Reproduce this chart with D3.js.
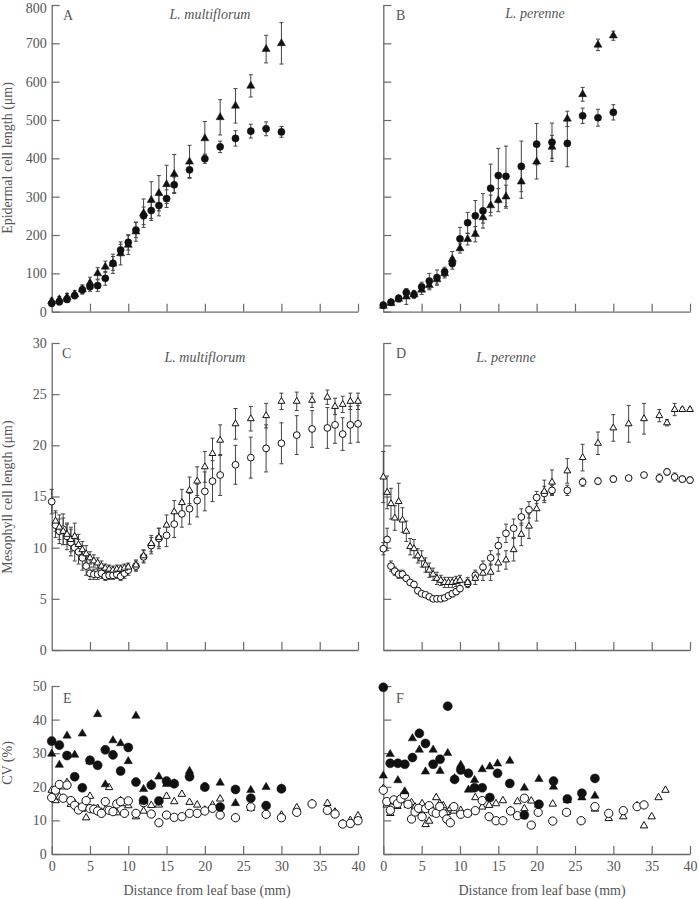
<!DOCTYPE html>
<html><head><meta charset="utf-8">
<script src="https://cdn.jsdelivr.net/npm/d3@7"></script>
<style>body{margin:0;background:#fff} svg{display:block}</style>
</head><body>
<script>
// ---------------- DATA ----------------
const distEpi = [0,1,2,3,4,5,6,7,8,9,10,11,12,13,14,15,16,18,20,22,24,26,28,30];
const distMeso = [0,0.5,1,1.5,2,2.5,3,3.5,4,4.5,5,5.5,6,6.5,7,7.5,8,8.5,9,9.5,10,11,12,13,14,15,16,17,18,19,20,21,22,24,26,28,30,32,34,36,37,38,39,40];
// positions as plotted in panel F
const distEpiCVPer = [0,0.9,1.9,2.8,3.8,4.7,5.5,6.5,7.4,8.4,9.3,10.1,11.1,11.9,12.9,13.9,14.9,16.5,18.4,20.3,22.2,24.0,25.9,27.6];
const distMesoCVPer = [0,0.46,0.92,1.38,1.84,2.3,2.76,3.22,3.68,4.14,4.6,5.06,5.52,5.98,6.44,6.9,7.36,7.82,8.28,8.74,9.2,10.1,11.0,12.0,12.9,13.8,14.7,15.6,16.6,17.5,18.4,19.3,20.2,22.1,23.9,25.8,27.6,29.4,31.3,33.1,34.0,35.0,35.9,36.8];

const epiYTicks = [0,100,200,300,400,500,600,700,800];
const mesoYTicks = [0,5,10,15,20,25,30];
const cvYTicks = [0,10,20,30,40,50];
const distTicks = [0,5,10,15,20,25,30,35,40];

// Panel A: L. multiflorum epidermal
const epiMultiCircle = [22,26,32,42,57,65,68,87,126,161,181,213,250,264,277,295,331,370,399,430,452,471,477,469];
const epiMultiCircleErr = [8,8,8,8,10,12,15,18,18,15,20,20,23,26,27,23,20,20,12,15,20,18,18,14];
const epiMultiTri = [27,32,38,45,58,75,100,117,125,152,174,209,257,291,309,332,359,391,452,507,537,589,685,700];
const epiMultiTriErr = [8,8,10,10,12,15,15,15,25,30,25,25,37,48,46,50,51,43,44,46,45,29,36,54];

// Panel B: L. perenne epidermal
const epiPerCircle = [17,25,35,50,45,65,80,89,104,126,190,232,250,263,322,355,353,379,437,442,439,511,506,520];
const epiPerCircleErr = [6,6,8,10,10,12,20,20,12,15,30,27,40,45,63,71,79,66,54,50,61,20,22,20];
const epiPerTri = [15,22,33,39,45,57,69,84,100,137,165,189,202,246,277,291,300,339,391,430,503,567,696,720];
const epiPerTriErr = [6,6,8,20,8,12,12,12,12,20,12,15,20,15,27,30,30,43,45,30,20,18,15,12];

// Panel C: L. multiflorum mesophyll
const mesoMultiCircle = [14.5,12.2,11.6,11.8,11.1,10.5,10.0,9.6,9.0,8.2,7.5,7.4,7.4,7.5,7.2,7.3,7.3,7.4,7.2,7.5,7.8,
  8.2,9.1,10.2,10.9,11.2,12.3,13.3,13.8,14.6,15.5,16.5,17.1,
  18.1,18.8,19.7,20.2,21.0,21.6,
  21.7,22.0,21.1,22.0,22.1];
const mesoMultiCircleErr = [1.2,1.2,1.2,1.5,1.3,1.3,1.3,1.2,1.2,0.9,0.6,0.5,0.5,0.5,0.4,0.4,0.4,0.4,0.4,0.5,0.5,
  0.5,0.6,0.8,1.0,1.1,1.3,1.3,1.5,1.6,1.9,2.0,2.0,
  1.9,2.0,2.3,2.0,1.9,1.8,
  2.0,1.8,1.6,1.8,1.8];
const mesoMultiTri = [null,12.6,12.0,11.6,11.3,10.8,11.1,10.3,9.8,9.4,9.0,8.7,8.5,8.2,8.0,7.9,7.8,7.9,7.9,8.0,8.1,
  8.3,9.2,10.4,11.0,12.2,13.5,14.4,15.6,16.5,17.9,19.2,20.5,
  22.1,22.6,22.9,24.3,24.3,24.4,
  24.7,23.8,24.0,24.3,24.3];
const mesoMultiTriErr = [0,1.0,1.2,1.3,1.0,1.2,1.3,1.0,0.8,0.8,0.6,0.6,0.5,0.5,0.4,0.4,0.4,0.4,0.4,0.4,0.4,
  0.5,0.6,0.8,0.9,1.0,1.1,1.3,1.3,1.4,1.5,1.5,1.5,
  1.5,1.2,1.2,0.8,0.9,0.7,
  0.7,0.8,0.8,0.8,0.8];

// Panel D: L. perenne mesophyll
const mesoPerCircle = [9.9,10.8,8.2,7.7,7.4,7.4,7.0,6.6,6.4,5.8,5.5,5.4,5.2,5.0,5.0,5.0,5.1,5.3,5.5,5.7,6.0,
  6.5,7.3,8.1,9.0,10.2,11.4,11.9,13.0,13.7,14.9,15.3,15.6,
  15.6,16.4,16.5,16.7,16.8,17.1,
  16.8,17.4,16.9,16.7,16.6];
const mesoPerCircleErr = [0.6,1.1,0.5,0.4,0.4,0.4,0.3,0.3,0.3,0.3,0.2,0.2,0.2,0.2,0.2,0.2,0.2,0.2,0.3,0.3,0.3,
  0.4,0.5,0.6,0.7,0.8,0.9,0.9,0.8,0.8,0.6,0.7,0.5,
  0.5,0.4,0.3,0.3,0.2,0.2,
  0.4,0.3,0.4,0.3,0.3];
const mesoPerTri = [16.9,15.4,14.3,12.9,14.5,12.7,11.6,10.1,9.9,9.2,8.9,8.3,7.8,7.4,7.0,6.8,6.6,6.6,6.6,6.7,6.8,
  6.6,7.0,7.5,7.6,8.5,8.8,9.8,11.3,12.1,13.8,15.5,16.4,
  17.5,18.8,20.2,21.7,22.1,22.6,
  22.9,22.2,23.5,23.5,23.5];
const mesoPerTriErr = [2.5,1.6,1.5,1.2,1.8,1.2,1.0,0.8,0.9,0.7,0.8,0.7,0.7,0.6,0.6,0.5,0.5,0.5,0.5,0.5,0.5,
  0.5,0.6,0.7,0.8,0.8,0.9,1.1,1.1,1.2,1.2,1.1,1.2,
  1.2,1.3,1.1,1.3,1.8,1.5,
  0.6,0.3,0.6,0.2,0.2];

// Panel E: CV, L. multiflorum
const cvEpiMultiCircle = [33.6,32.4,29.3,23.0,19.7,27.9,26.4,31.0,29.5,24.7,31.7,21.4,16.0,20.5,15.8,21.7,20.9,23.0,19.9,14.0,19.2,16.6,14.4,19.4];
const cvEpiMultiTri = [29.8,26.5,35.2,29.5,35.8,27.5,41.6,20.7,33.8,32.9,27.6,41.1,19.3,20.8,23.0,20.8,21.0,24.7,20.0,21.2,15.1,19.0,19.9,19.5];
const cvMesoMultiCircle = [16.8,19.0,20.7,16.6,20.5,15.9,14.5,13.1,14.0,15.9,13.5,13.3,12.8,12.1,15.6,13.0,12.6,14.9,15.6,12.1,15.8,
  12.1,15.3,11.9,9.3,11.6,10.9,11.1,12.1,12.1,12.8,13.6,11.6,
  10.8,14.0,11.8,10.8,12.4,14.9,
  13.0,11.9,8.9,9.1,9.9];
const cvMesoMultiTri = [19.0,15.9,17.0,20.0,21.3,14.8,15.1,14.0,13.4,10.8,17.2,13.5,13.6,12.5,13.1,19.8,12.6,12.3,15.9,15.0,14.4,
  11.1,12.8,14.5,14.6,17.2,15.6,17.8,15.4,14.6,13.1,14.6,16.4,
  10.9,13.6,12.0,11.6,13.8,15.1,
  15.1,12.5,9.1,10.0,11.4];

// Panel F: CV, L. perenne
const cvEpiPerCircle = [49.6,27.0,27.0,26.7,28.7,35.9,32.9,26.7,28.2,44.0,22.2,25.0,24.0,19.7,19.7,16.8,24.0,21.0,11.6,14.8,21.7,16.4,18.1,22.5];
const cvEpiPerTri = [23.3,29.7,21.9,18.6,34.4,31.0,24.5,31.0,24.7,30.0,22.5,26.5,19.1,22.0,25.2,26.0,26.9,27.7,19.7,22.3,20.0,16.0,16.8,17.3];
const cvMesoPerCircle = [19.0,15.6,13.0,16.1,15.0,16.4,17.6,14.8,10.4,12.5,13.6,11.1,13.5,14.4,12.5,12.1,14.1,12.0,10.4,9.3,14.1,
  11.8,12.1,12.9,15.9,11.1,9.9,9.9,12.8,11.4,16.6,8.6,12.4,
  9.8,12.4,9.9,14.1,12.1,12.9,
  14.1,14.6,null,null,null];
const cvMesoPerTri = [19.5,14.6,12.1,15.5,14.2,16.0,18.4,14.5,15.3,14.0,13.0,15.0,8.8,9.8,13.0,16.8,15.0,14.4,12.4,13.5,12.8,
  13.0,12.0,16.8,14.0,14.5,15.0,15.9,13.0,15.6,13.5,15.8,14.6,
  14.9,12.4,9.9,13.4,10.6,11.1,
  14.4,8.4,11.1,16.8,19.0];

// ---------------- DRAWING ----------------
const FONT = '"Liberation Serif","Times New Roman",Times,serif';
const TXT = "#555", AX = "#6a6a6a", MK = "#111";
const svg = d3.select("body").append("svg").attr("width",699).attr("height",899);

const xLeft = d3.scaleLinear().domain([0,40]).range([51.7,358]);
const xRight = d3.scaleLinear().domain([0,40]).range([383.3,690]);
const yEpi = d3.scaleLinear().domain([0,800]).range([311.7,5]);
const yMeso = d3.scaleLinear().domain([0,30]).range([650,343]);
const yCV = d3.scaleLinear().domain([0,50]).range([854,686]);

function axes(x, y, yTicks, yLabels, xLabels){
  const gx = svg.append("g").attr("transform",`translate(0,${y(0)})`)
    .call(d3.axisBottom(x).tickValues(xLabels ? distTicks : distTicks.slice(1))
      .tickSizeInner(-8).tickSizeOuter(0).tickPadding(7)
      .tickFormat(xLabels ? d3.format("d") : ""));
  const gy = svg.append("g").attr("transform",`translate(${x(0)},0)`)
    .call(d3.axisLeft(y).tickValues(yTicks)
      .tickSizeInner(-8).tickSizeOuter(0).tickPadding(5)
      .tickFormat(yLabels ? d3.format("d") : ""));
  [gx,gy].forEach(g=>{
    g.attr("font-family",FONT).attr("font-size",14);
    g.select(".domain").attr("stroke",AX).attr("stroke-width",1.3);
    g.selectAll(".tick line").attr("stroke",AX).attr("stroke-width",1.2);
    g.selectAll(".tick text").attr("fill",TXT);
  });
  // keep the top label inside the picture
  gy.selectAll(".tick text").filter(d=>d===800).attr("dy","0.5em");
}

function errBars(x, y, xs, vals, errs){
  const d = xs.map((v,i)=>({x:v, y:vals[i], e:errs[i]})).filter(p=>p.y!=null && p.e>0);
  const g = svg.append("g").attr("stroke","#444").attr("stroke-width",1).attr("fill","none");
  d.forEach(p=>{
    const cx = x(p.x), y1 = y(p.y+p.e), y2 = y(p.y-p.e);
    g.append("line").attr("x1",cx).attr("x2",cx).attr("y1",y1).attr("y2",y2);
    g.append("line").attr("x1",cx-2).attr("x2",cx+2).attr("y1",y1).attr("y2",y1);
    g.append("line").attr("x1",cx-2).attr("x2",cx+2).attr("y1",y2).attr("y2",y2);
  });
}

function marks(x, y, xs, vals, shape, filled, size){
  const d = xs.map((v,i)=>({x:v, y:vals[i]})).filter(p=>p.y!=null);
  const sym = d3.symbol().type(shape==="tri" ? d3.symbolTriangle : d3.symbolCircle).size(size);
  svg.append("g").selectAll("path").data(d).join("path")
    .attr("d", sym)
    .attr("transform", p=>`translate(${x(p.x)},${y(p.y)})`)
    .attr("fill", filled ? MK : "#fff")
    .attr("stroke", MK)
    .attr("stroke-width", filled ? 0.5 : 1);
}

function label(x, y, str, opts={}){
  svg.append("text").attr("x",x).attr("y",y).text(str)
    .attr("font-family",FONT).attr("font-size",opts.size||14).attr("fill",TXT)
    .attr("font-style",opts.italic?"italic":null)
    .attr("text-anchor",opts.anchor||"start");
}

// axes
axes(xLeft, yEpi, epiYTicks, true, false);
axes(xRight, yEpi, epiYTicks, false, false);
axes(xLeft, yMeso, mesoYTicks, true, false);
axes(xRight, yMeso, mesoYTicks, false, false);
axes(xLeft, yCV, cvYTicks, true, true);
axes(xRight, yCV, cvYTicks, false, true);

// Panel A
errBars(xLeft, yEpi, distEpi, epiMultiTri, epiMultiTriErr);
errBars(xLeft, yEpi, distEpi, epiMultiCircle, epiMultiCircleErr);
marks(xLeft, yEpi, distEpi, epiMultiTri, "tri", true, 28);
marks(xLeft, yEpi, distEpi, epiMultiCircle, "circ", true, 40);
// Panel B
errBars(xRight, yEpi, distEpi, epiPerTri, epiPerTriErr);
errBars(xRight, yEpi, distEpi, epiPerCircle, epiPerCircleErr);
marks(xRight, yEpi, distEpi, epiPerTri, "tri", true, 28);
marks(xRight, yEpi, distEpi, epiPerCircle, "circ", true, 40);
// Panel C
errBars(xLeft, yMeso, distMeso, mesoMultiCircle, mesoMultiCircleErr);
errBars(xLeft, yMeso, distMeso, mesoMultiTri, mesoMultiTriErr);
marks(xLeft, yMeso, distMeso, mesoMultiCircle, "circ", false, 36);
marks(xLeft, yMeso, distMeso, mesoMultiTri, "tri", false, 20);
// Panel D
errBars(xRight, yMeso, distMeso, mesoPerCircle, mesoPerCircleErr);
errBars(xRight, yMeso, distMeso, mesoPerTri, mesoPerTriErr);
marks(xRight, yMeso, distMeso, mesoPerCircle, "circ", false, 36);
marks(xRight, yMeso, distMeso, mesoPerTri, "tri", false, 20);
// Panel E
marks(xLeft, yCV, distMeso, cvMesoMultiTri, "tri", false, 24);
marks(xLeft, yCV, distMeso, cvMesoMultiCircle, "circ", false, 54);
marks(xLeft, yCV, distEpi, cvEpiMultiTri, "tri", true, 30);
marks(xLeft, yCV, distEpi, cvEpiMultiCircle, "circ", true, 64);
// Panel F
marks(xRight, yCV, distMesoCVPer, cvMesoPerTri, "tri", false, 24);
marks(xRight, yCV, distMesoCVPer, cvMesoPerCircle, "circ", false, 54);
marks(xRight, yCV, distEpiCVPer, cvEpiPerTri, "tri", true, 30);
marks(xRight, yCV, distEpiCVPer, cvEpiPerCircle, "circ", true, 64);

// panel letters and titles
label(63, 20, "A"); label(396, 20, "B");
label(62, 358, "C"); label(396, 358, "D");
label(63, 703, "E"); label(396, 703, "F");
label(210, 19, "L. multiflorum", {italic:true, anchor:"middle"});
label(535, 18, "L. perenne", {italic:true, anchor:"middle"});
label(205, 362, "L. multiflorum", {italic:true, anchor:"middle"});
label(506, 362, "L. perenne", {italic:true, anchor:"middle"});

// axis titles
function vlabel(x, y, str){
  svg.append("text").attr("transform",`translate(${x},${y}) rotate(-90)`)
    .attr("text-anchor","middle").attr("font-family",FONT).attr("font-size",14)
    .attr("fill",TXT).text(str);
}
vlabel(12, 158, "Epidermal cell length (μm)");
vlabel(12, 497, "Mesophyll cell length (μm)");
vlabel(12, 763, "CV (%)");
label(207, 895, "Distance from leaf base (mm)", {anchor:"middle"});
label(542, 895, "Distance from leaf base (mm)", {anchor:"middle"});
</script>
</body></html>
